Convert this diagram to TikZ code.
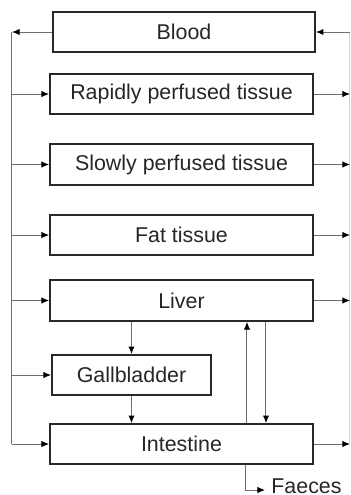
\documentclass[tikz,border=0pt]{standalone}
\usepackage{fontspec}
\setmainfont{Liberation Sans}
\usetikzlibrary{arrows.meta, positioning, calc}
\definecolor{linecolor}{RGB}{110,110,110}
\definecolor{boxcolor}{RGB}{40,40,40}

\begin{document}
\begin{tikzpicture}[
    x=0.5pt, y=-0.5pt,
    box/.style={rectangle, draw=boxcolor, line width=0.9pt, minimum width=131.5pt, minimum height=20pt, inner sep=0pt, align=center, font=\fontsize{10.7}{13}\selectfont, text=black!85},
    arrow/.style={-{Latex[length=3.8pt, width=3.2pt, color=black]}, line width=0.5pt, draw=linecolor},
    edge/.style={line width=0.5pt, draw=linecolor}
]
\useasboundingbox (0,0) rectangle (351,495);

\node[box, minimum width=131pt] (blood) at (184,32) {Blood};
\node[box] (rapid) at (181.5,94) {Rapidly perfused tissue};
\node[box, minimum height=20.5pt] (slow) at (181.5,164.5) {Slowly perfused tissue};
\node[box] (fat) at (181.5,235) {Fat tissue};
\node[box, minimum height=20.5pt] (liver) at (181.5,300.5) {Liver};
\node[box, minimum width=79.5pt] (gall) at (131.5,375) {Gallbladder};
\node[box] (gut) at (181.5,444) {Intestine};
\node[font=\fontsize{10.7}{13}\selectfont, text=black!85, anchor=base west, inner sep=0pt] (faeces) at (271,493) {Faeces};

% return to the blood on the left
\coordinate (lt) at (12,32);
\coordinate (lb) at (12,444);
% venous side on the right
\coordinate (rt) at (350,32);
\coordinate (rb) at (350,444);
\coordinate (fx) at (265,490);

\draw[arrow] (blood) -- (lt);
\draw[edge] (lt) -- (lb);
\draw[arrow] (lb) -- (gut);
\draw[arrow] (lt |- rapid) -- (rapid);
\draw[arrow] (lt |- slow) -- (slow);
\draw[arrow] (lt |- fat) -- (fat);
\draw[arrow] (lt |- liver) -- (liver);
\draw[arrow] (lt |- gall) -- (gall);

\draw[edge, draw=linecolor!30] (rt) -- (rb);
\draw[arrow] (rt) -- (blood);
\draw[arrow] (rapid) -- (rt |- rapid);
\draw[arrow] (slow) -- (rt |- slow);
\draw[arrow] (fat) -- (rt |- fat);
\draw[arrow] (liver) -- (rt |- liver);
\draw[arrow] (gut) -- (rb);

\draw[arrow] (liver.south -| gall) -- (gall);
\draw[arrow] (gall) -- (gall |- gut.north);
\draw[arrow] (gut.north -| 247,0) -- (liver.south -| 247,0);
\draw[arrow] (liver.south -| 266,0) -- (gut.north -| 266,0);
\draw[arrow] (gut.south -| 246,0) |- (fx);
\end{tikzpicture}
\end{document}
